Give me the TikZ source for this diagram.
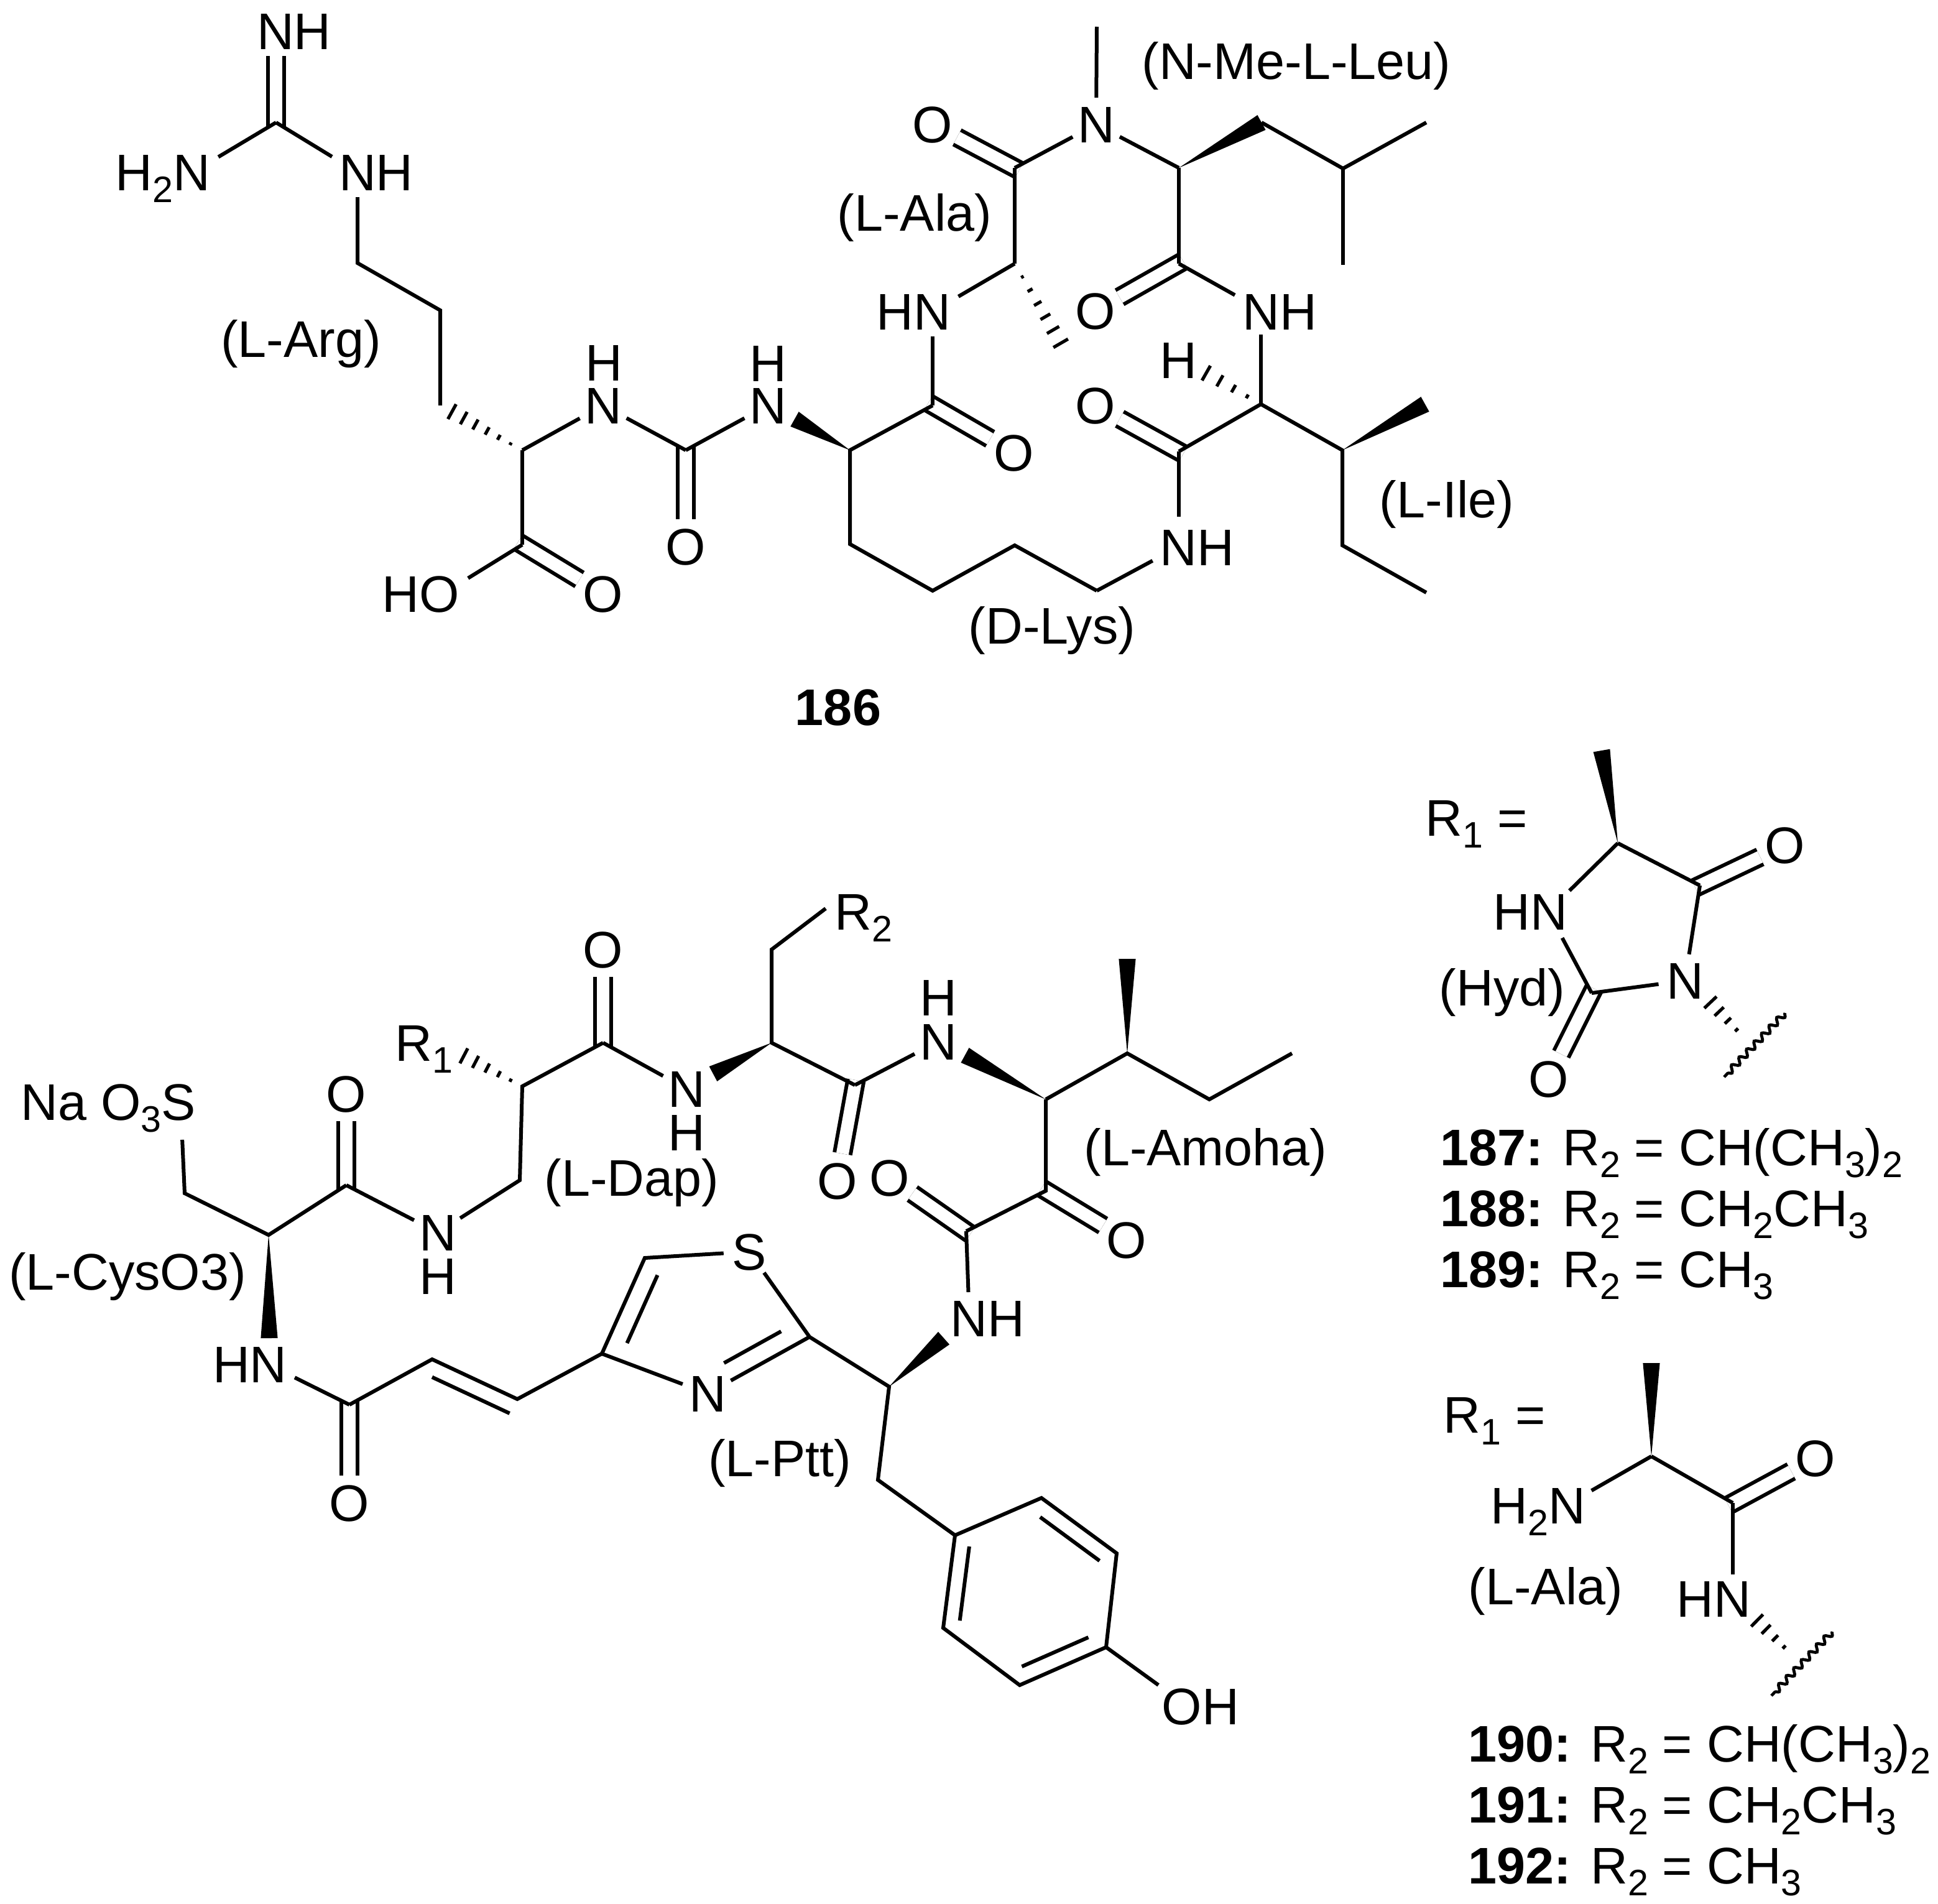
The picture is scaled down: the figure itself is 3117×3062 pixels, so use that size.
\documentclass[tikz,border=0pt]{standalone}
\usepackage{fontspec}
\setmainfont{Liberation Sans}
\usetikzlibrary{calc}
\usetikzlibrary{decorations.pathmorphing}
\newcommand{\chsub}[1]{\raisebox{-4.8pt}{\fontsize{14.8}{15}\selectfont #1}}
\tikzset{
chem label/.style = { inner sep = 0pt, text height = 14.8pt, text depth = 0pt, font = \fontsize{20.7}{25}\selectfont },
atom/.style = { chem label, circle },
list label/.style = { chem label, anchor = west },
bond/.style = { line width = 1.5pt },
from label/.style = { bond, shorten <= 12pt },
to label/.style = { bond, shorten >= 12pt },
dbl bond/.style = { double, double distance = 5pt, line width = 1.5pt, shorten <= -2pt },
wavy bond/.style = { line width = 1.2pt, decorate, decoration = { snake, segment length = 4.4pt, amplitude = 1.2pt } },
}
\tikzset{
pics/wedge bond/.style args={#1, #2}{
        code = {
        \fill[black] (#1) -- ($(#2)!3.4pt!90:(#1)$) -- ($(#2)!3.4pt!-90:(#1)$) -- cycle;
        }
    },
pics/hash bond/.style args={#1, #2, #3}{
        code = {
        \foreach \f in {1,...,#3} {
            \pgfmathsetmacro{\hpos}{\f/#3}
            \pgfmathsetmacro{\hhalf}{\hpos*3.4}
            \draw[line width = 1.3pt] ($(#1)!\hpos!(#2)!\hhalf pt!90:(#1)$) -- ($(#1)!\hpos!(#2)!\hhalf pt!-90:(#1)$);
        }
        }
    },
pics/inner bond/.style args={#1, #2, #3, #4, #5}{
        code = {
        \draw[bond] ($(#1)!#3!(#2)!#5!90:(#2)$) -- ($(#1)!#4!(#2)!#5!90:(#2)$);
        }
    }
}
\begin{document}
\begin{tikzpicture}[x = 0.25pt, y = -0.25pt]
    \useasboundingbox (0, 0) rectangle (3117, 3062);
    % upper macrocycle: labels
    \node[chem label] (gimh) at (473, 50) {NH};
    \node[chem label] (gamine) at (262, 277) {H\chsub{2}N};
    \node[chem label] (gnh) at (605, 277) {NH};
    \node[chem label] (argname) at (484, 545) {(L-Arg)};
    \node[chem label] (argnh) at (971, 583) {H};
    \node[atom] (argn) at (970, 652) {N};
    \node[chem label] (argoh) at (677, 955) {HO};
    \node[atom] (argo) at (970, 955) {O};
    \node[atom] (ureao) at (1103, 879) {O};
    \node[chem label] (lysnh) at (1235, 584) {H};
    \node[atom] (lysn) at (1235, 652) {N};
    \node[atom] (lyso) at (1631, 728) {O};
    \node[chem label] (lysenh) at (1925, 880) {NH};
    \node[chem label] (lysname) at (1692, 1006) {(D-Lys)};
    \node[chem label] (alanh) at (1469, 501) {HN};
    \node[chem label] (alaname) at (1471, 342) {(L-Ala)};
    \node[atom] (alao) at (1500, 200) {O};
    \node[atom] (men) at (1763, 200) {N};
    \node[chem label] (leuname) at (2085, 98) {(N-Me-L-Leu)};
    \node[atom] (leuo) at (1762, 500) {O};
    \node[chem label] (ilenh) at (2058, 501) {NH};
    \node[chem label] (ileh) at (1895, 579) {H};
    \node[atom] (ileo) at (1762, 652) {O};
    \node[chem label] (ilename) at (2327, 803) {(L-Ile)};
    \node[chem label] (titlea) at (1348, 1137) {\textbf{186}};
    % lower macrocycle: labels
    \node[chem label] (cyss) at (174, 1772) {Na O\chsub{3}S};
    \node[chem label] (cysname) at (205, 2045) {(L-CysO3)};
    \node[atom] (cyso) at (557, 1759) {O};
    \node[atom] (dapn) at (704, 1982) {N};
    \node[chem label] (dapnh) at (704, 2052) {H};
    \node[chem label] (rone) at (682, 1677) {R\chsub{1}};
    \node[atom] (dapo) at (970, 1527) {O};
    \node[atom] (bn) at (1104, 1751) {N};
    \node[chem label] (bnh) at (1104, 1821) {H};
    \node[chem label] (dapname) at (1016, 1894) {(L-Dap)};
    \node[chem label] (rtwo) at (1389, 1466) {R\chsub{2}};
    \node[atom] (bo) at (1347, 1899) {O};
    \node[atom] (amon) at (1509, 1675) {N};
    \node[chem label] (amonh) at (1509, 1604) {H};
    \node[chem label] (amoname) at (1939, 1845) {(L-Amoha)};
    \node[atom] (amoo) at (1812, 1994) {O};
    \node[atom] (ptto) at (1431, 1894) {O};
    \node[chem label] (pttnh) at (1588, 2120) {NH};
    \node[chem label] (pttname) at (1254, 2345) {(L-Ptt)};
    \node[atom] (thzs) at (1205, 2013) {S};
    \node[atom] (thzn) at (1138, 2241) {N};
    \node[chem label] (acnh) at (402, 2194) {HN};
    \node[atom] (aco) at (562, 2417) {O};
    \node[chem label] (tyroh) at (1931, 2744) {OH};
    % side panels: labels
    \node[list label] (hydr) at (2292, 1315) {R\chsub{1} =};
    \node[atom] (hydo) at (2871, 1359) {O};
    \node[atom] (hydn) at (2710, 1577) {N};
    \node[chem label] (hydnh) at (2461, 1466) {HN};
    \node[chem label] (hydname) at (2416, 1588) {(Hyd)};
    \node[atom] (hydot) at (2491, 1735) {O};
    \node[list label] (ca) at (2316, 1845) {\textbf{187:} R\chsub{2} = CH(CH\chsub{3})\chsub{2}};
    \node[list label] (cb) at (2316, 1943) {\textbf{188:} R\chsub{2} = CH\chsub{2}CH\chsub{3}};
    \node[list label] (cc) at (2316, 2041) {\textbf{189:} R\chsub{2} = CH\chsub{3}};
    \node[list label] (sider) at (2321, 2275) {R\chsub{1} =};
    \node[atom] (sideo) at (2920, 2345) {O};
    \node[chem label] (sidenh) at (2474, 2421) {H\chsub{2}N};
    \node[chem label] (sidename) at (2486, 2551) {(L-Ala)};
    \node[chem label] (sidehn) at (2756, 2571) {HN};
    \node[list label] (cd) at (2361, 2804) {\textbf{190:} R\chsub{2} = CH(CH\chsub{3})\chsub{2}};
    \node[list label] (ce) at (2361, 2902) {\textbf{191:} R\chsub{2} = CH\chsub{2}CH\chsub{3}};
    \node[list label] (cf) at (2361, 3000) {\textbf{192:} R\chsub{2} = CH\chsub{3}};
    % upper macrocycle: atoms
    \coordinate (gua) at (444, 197);
    \coordinate (gimn) at (444, 50);
    \coordinate (gan) at (310, 277);
    \coordinate (gnn) at (575, 277);
    \coordinate (argd) at (575, 423);
    \coordinate (argg) at (708, 499);
    \coordinate (argb) at (708, 652);
    \coordinate (argw) at (727, 662);
    \coordinate (arga) at (840, 724);
    \coordinate (argc) at (840, 876);
    \coordinate (argon) at (712, 955);
    \coordinate (urea) at (1103, 724);
    \coordinate (lysa) at (1367, 724);
    \coordinate (lysw) at (1278, 674);
    \coordinate (lysb) at (1367, 875);
    \coordinate (lysg) at (1500, 950);
    \coordinate (lysd) at (1632, 877);
    \coordinate (lyse) at (1764, 950);
    \coordinate (lysen) at (1896, 879);
    \coordinate (lysc) at (1500, 652);
    \coordinate (alan) at (1500, 501);
    \coordinate (alaa) at (1632, 424);
    \coordinate (alaw) at (1706, 552);
    \coordinate (alac) at (1632, 270);
    \coordinate (mec) at (1764, 43);
    \coordinate (leua) at (1896, 270);
    \coordinate (leub) at (2029, 197);
    \coordinate (leug) at (2160, 271);
    \coordinate (leuda) at (2294, 197);
    \coordinate (leudb) at (2160, 426);
    \coordinate (leuc) at (1896, 424);
    \coordinate (ilen) at (2028, 498);
    \coordinate (ilea) at (2028, 650);
    \coordinate (ilew) at (1940, 600);
    \coordinate (ilec) at (1896, 726);
    \coordinate (ileb) at (2159, 724);
    \coordinate (ilem) at (2292, 650);
    \coordinate (ileg) at (2159, 877);
    \coordinate (iled) at (2294, 953);
    % lower macrocycle: atoms
    \coordinate (cyssat) at (291, 1785);
    \coordinate (cysb) at (297, 1919);
    \coordinate (cysa) at (432, 1986);
    \coordinate (cysw) at (433, 2152);
    \coordinate (cysc) at (557, 1906);
    \coordinate (dapb) at (836, 1898);
    \coordinate (dapa) at (840, 1747);
    \coordinate (dapw) at (746, 1698);
    \coordinate (dapc) at (970, 1677);
    \coordinate (ba) at (1241, 1677);
    \coordinate (bw) at (1147, 1727);
    \coordinate (bb) at (1241, 1527);
    \coordinate (bg) at (1328, 1461);
    \coordinate (bc) at (1375, 1745);
    \coordinate (amoa) at (1682, 1768);
    \coordinate (amow) at (1552, 1697);
    \coordinate (amob) at (1813, 1694);
    \coordinate (amom) at (1813, 1542);
    \coordinate (amog) at (1945, 1768);
    \coordinate (amod) at (2078, 1694);
    \coordinate (amoc) at (1682, 1915);
    \coordinate (pttc) at (1554, 1980);
    \coordinate (pttn) at (1559, 2120);
    \coordinate (ptta) at (1430, 2230);
    \coordinate (pttw) at (1518, 2152);
    \coordinate (pttb) at (1412, 2380);
    \coordinate (thzb) at (1302, 2150);
    \coordinate (thzd) at (968, 2177);
    \coordinate (thze) at (1037, 2023);
    \coordinate (vinb) at (832, 2250);
    \coordinate (vina) at (695, 2186);
    \coordinate (acc) at (562, 2259);
    \coordinate (acn) at (431, 2194);
    \coordinate (tyra) at (1536, 2469);
    \coordinate (tyrb) at (1675, 2409);
    \coordinate (tyrc) at (1796, 2498);
    \coordinate (tyrd) at (1779, 2649);
    \coordinate (tyre) at (1640, 2710);
    \coordinate (tyrf) at (1517, 2618);
    \coordinate (tyro) at (1902, 2738);
    % side panels: atoms
    \coordinate (hyde) at (2602, 1356);
    \coordinate (hydw) at (2576, 1207);
    \coordinate (hydd) at (2734, 1424);
    \coordinate (hydb) at (2560, 1597);
    \coordinate (hyda) at (2490, 1466);
    \coordinate (hydh) at (2751, 1612);
    \coordinate (hydt) at (2807, 1671);
    \coordinate (hydwa) at (2871, 1629);
    \coordinate (hydwb) at (2773, 1732);
    \coordinate (sidea) at (2656, 2342);
    \coordinate (sidew) at (2656, 2192);
    \coordinate (sidec) at (2787, 2417);
    \coordinate (siden) at (2518, 2421);
    \coordinate (sidem) at (2787, 2572);
    \coordinate (sideh) at (2826, 2606);
    \coordinate (sidet) at (2884, 2663);
    \coordinate (sidewa) at (2947, 2624);
    \coordinate (sidewb) at (2849, 2727);
    % double bonds go first, the single bonds cover their white core
    \draw[dbl bond, shorten >= 10pt] (gua) -- (gimn);
    \draw[dbl bond] (argc) -- (argo);
    \draw[dbl bond] (urea) -- (ureao);
    \draw[dbl bond] (lysc) -- (lyso);
    \draw[dbl bond] (alac) -- (alao);
    \draw[dbl bond] (leuc) -- (leuo);
    \draw[dbl bond] (ilec) -- (ileo);
    \draw[dbl bond] (cysc) -- (cyso);
    \draw[dbl bond] (dapc) -- (dapo);
    \draw[dbl bond] (bc) -- (bo);
    \draw[dbl bond] (amoc) -- (amoo);
    \draw[dbl bond] (pttc) -- (ptto);
    \draw[dbl bond] (acc) -- (aco);
    \draw[dbl bond] (hydd) -- (hydo);
    \draw[dbl bond] (hydb) -- (hydot);
    \draw[dbl bond] (sidec) -- (sideo);
    % upper macrocycle
    \draw[to label] (gua) -- (gan);
    \draw[to label] (gua) -- (gnn);
    \draw[from label, shorten <= 10pt] (gnn) -- (argd) -- (argg) -- (argb);
    \path pic{hash bond = {arga, argw, 6}};
    \draw[bond] (arga) -- (argn);
    \draw[bond] (arga) -- (argc);
    \draw[to label] (argc) -- (argon);
    \draw[bond] (argn) -- (urea);
    \draw[bond] (urea) -- (lysn);
    \path pic{wedge bond = {lysa, lysw}};
    \draw[bond] (lysc) -- (lysa) -- (lysb) -- (lysg) -- (lysd) -- (lyse);
    \draw[to label] (lyse) -- (lysen);
    \draw[from label] (lysen) -- (ilec);
    \draw[from label, shorten <= 10pt] (alan) -- (lysc);
    \draw[from label] (alan) -- (alaa);
    \draw[bond] (alaa) -- (alac);
    \path pic{hash bond = {alaa, alaw, 6}};
    \draw[bond] (alac) -- (men);
    \draw[bond] (mec) -- (men);
    \draw[bond] (men) -- (leua);
    \path pic{wedge bond = {leua, leub}};
    \draw[bond] (leub) -- (leug) -- (leuda);
    \draw[bond] (leug) -- (leudb);
    \draw[bond] (leua) -- (leuc);
    \draw[to label] (leuc) -- (ilen);
    \draw[from label, shorten <= 10pt] (ilen) -- (ilea);
    \path pic{hash bond = {ilea, ilew, 4}};
    \draw[bond] (ilec) -- (ilea) -- (ileb) -- (ileg) -- (iled);
    \path pic{wedge bond = {ileb, ilem}};
    % lower macrocycle
    \draw[from label] (cyssat) -- (cysb) -- (cysa) -- (cysc);
    \path pic{wedge bond = {cysa, cysw}};
    \draw[bond] (cysc) -- (dapn);
    \draw[bond] (dapn) -- (dapb) -- (dapa) -- (dapc);
    \path pic{hash bond = {dapa, dapw, 5}};
    \draw[bond] (dapc) -- (bn);
    \path pic{wedge bond = {ba, bw}};
    \draw[bond] (bg) -- (bb) -- (ba) -- (bc);
    \draw[bond] (bc) -- (amon);
    \path pic{wedge bond = {amoa, amow}};
    \draw[bond] (amoa) -- (amob) -- (amog) -- (amod);
    \path pic{wedge bond = {amob, amom}};
    \draw[bond] (amoa) -- (amoc) -- (pttc);
    \draw[to label, shorten >= 10.5pt] (pttc) -- (pttn);
    \path pic{wedge bond = {ptta, pttw}};
    \draw[bond] (thzs) -- (thzb) -- (ptta) -- (pttb) -- (tyra);
    \draw[bond] (thzb) -- (thzn);
    \path pic{inner bond = {thzb, thzn, 0.19, 0.75, -7.5pt}};
    \draw[bond] (thzn) -- (thzd) -- (thze) -- (thzs);
    \path pic{inner bond = {thzd, thze, 0.19, 0.9, -7.5pt}};
    \draw[bond] (thzd) -- (vinb) -- (vina) -- (acc);
    \path pic{inner bond = {vina, vinb, 0.08, 0.99, -6.5pt}};
    \draw[to label] (acc) -- (acn);
    \draw[bond] (tyra) -- (tyrb) -- (tyrc) -- (tyrd) -- (tyre) -- (tyrf) -- cycle;
    \path pic{inner bond = {tyra, tyrf, 0.1, 0.9, 6.25pt}};
    \path pic{inner bond = {tyrb, tyrc, 0.11, 0.9, -6.5pt}};
    \path pic{inner bond = {tyrd, tyre, 0.13, 0.9, -6.5pt}};
    \draw[to label] (tyrd) -- (tyro);
    % side panels
    \path pic{wedge bond = {hyde, hydw}};
    \draw[bond] (hydd) -- (hyde);
    \draw[from label] (hyda) -- (hyde);
    \draw[from label] (hyda) -- (hydb);
    \draw[bond] (hydb) -- (hydn);
    \draw[bond] (hydd) -- (hydn);
    \path pic{hash bond = {hydt, hydh, 4}};
    \draw[wavy bond] (hydwa) -- (hydwb);
    \path pic{wedge bond = {sidea, sidew}};
    \draw[to label] (sidea) -- (siden);
    \draw[bond] (sidea) -- (sidec);
    \draw[to label, shorten >= 10pt] (sidec) -- (sidem);
    \path pic{hash bond = {sidet, sideh, 4}};
    \draw[wavy bond] (sidewa) -- (sidewb);
\end{tikzpicture}
\end{document}
